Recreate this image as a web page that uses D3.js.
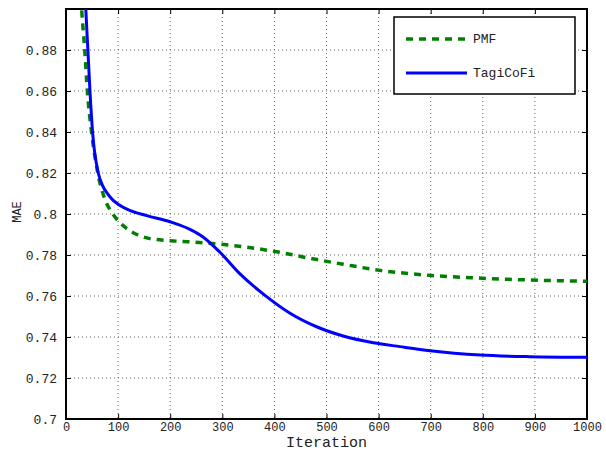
<!DOCTYPE html>
<html>
<head>
<meta charset="utf-8">
<script src="https://cdn.jsdelivr.net/npm/d3@7"></script>
<style>
  body { margin: 0; background: #fff; }
  text { font-family: "Liberation Mono", "DejaVu Sans Mono", monospace; fill: #222; }
</style>
</head>
<body>
<svg id="chart" width="606" height="452"></svg>
<script>
// values
var pmfIter = [20, 30, 36, 41, 49, 61, 75, 90, 115, 136, 161, 200, 263, 328, 404, 468, 532, 603, 692, 788, 890, 1000];
var pmfMae  = [0.95, 0.90, 0.88, 0.86, 0.84, 0.82, 0.807, 0.80, 0.7932, 0.7900, 0.7880, 0.787, 0.786, 0.7844, 0.7816, 0.7784, 0.7755, 0.7725, 0.7702, 0.7688, 0.7678, 0.7672];

var tagiIter = [30, 38, 42, 46, 51, 62, 70, 80, 90, 100, 120, 155, 200, 238, 263, 296, 334, 385, 430, 481, 532, 590, 641, 699, 795, 890, 1000];
var tagiMae  = [0.96, 0.90, 0.88, 0.86, 0.84, 0.82, 0.8140, 0.8098, 0.8068, 0.8048, 0.8020, 0.7992, 0.7962, 0.7925, 0.7888, 0.7812, 0.7708, 0.7597, 0.7516, 0.745, 0.7405, 0.7372, 0.7353, 0.7333, 0.7312, 0.7304, 0.7301];

var xTicks = [0, 100, 200, 300, 400, 500, 600, 700, 800, 900, 1000];
var yTicks = [0.7, 0.72, 0.74, 0.76, 0.78, 0.8, 0.82, 0.84, 0.86, 0.88];

var svg = d3.select("#chart");
var pLeft = 66, pRight = 587, pTop = 9, pBottom = 419;

var x = d3.scaleLinear().domain([0, 1000]).range([pLeft, pRight]);
var y = d3.scaleLinear().domain([0.7, 0.9]).range([pBottom, pTop]);

svg.append("defs").append("clipPath").attr("id", "clip")
  .append("rect").attr("x", pLeft).attr("y", pTop)
  .attr("width", pRight - pLeft).attr("height", pBottom - pTop);

// grid
var grid = svg.append("g").attr("stroke", "#666").attr("stroke-dasharray", "1,3").attr("stroke-width", 1);
grid.selectAll(".gx").data(xTicks.slice(1, -1)).enter().append("line")
  .attr("x1", function(d) { return x(d); }).attr("x2", function(d) { return x(d); })
  .attr("y1", pTop).attr("y2", pBottom);
grid.selectAll(".gy").data(yTicks.slice(1)).enter().append("line")
  .attr("x1", pLeft).attr("x2", pRight)
  .attr("y1", function(d) { return y(d); }).attr("y2", function(d) { return y(d); });

// axes
function styleAxis(g) {
  g.select(".domain").remove();
  g.selectAll("line").attr("stroke", "#000").attr("stroke-width", 1);
  g.selectAll("text").attr("font-size", "13px").attr("fill", "#222");
}
var fmtY = function(d) { return String(+d.toFixed(2)); };

svg.append("g").attr("transform", "translate(0," + pBottom + ")")
  .call(d3.axisBottom(x).tickValues(xTicks).tickSize(-5).tickPadding(3).tickFormat(d3.format("d")))
  .call(styleAxis)
  .selectAll("text").attr("font-size", "12px");
svg.append("g").attr("transform", "translate(0," + pTop + ")")
  .call(d3.axisTop(x).tickValues(xTicks).tickSize(-5).tickFormat(""))
  .call(styleAxis);
svg.append("g").attr("transform", "translate(" + pLeft + ",0)")
  .call(d3.axisLeft(y).tickValues(yTicks).tickSize(-5).tickPadding(9).tickFormat(fmtY))
  .call(styleAxis);
svg.append("g").attr("transform", "translate(" + pRight + ",0)")
  .call(d3.axisRight(y).tickValues(yTicks).tickSize(-5).tickFormat(""))
  .call(styleAxis);

svg.append("rect").attr("x", pLeft).attr("y", pTop)
  .attr("width", pRight - pLeft).attr("height", pBottom - pTop)
  .attr("fill", "none").attr("stroke", "#000").attr("stroke-width", 2);

// lines
var line = d3.line()
  .x(function(d) { return x(d[0]); })
  .y(function(d) { return y(d[1]); })
  .curve(d3.curveMonotoneX);

var plot = svg.append("g").attr("clip-path", "url(#clip)");
plot.append("path").datum(d3.zip(pmfIter, pmfMae))
  .attr("d", line).attr("fill", "none")
  .attr("stroke", "#008000").attr("stroke-width", 3.5).attr("stroke-dasharray", "7,6");
plot.append("path").datum(d3.zip(tagiIter, tagiMae))
  .attr("d", line).attr("fill", "none")
  .attr("stroke", "#0000ff").attr("stroke-width", 3);

// labels
svg.append("text").attr("x", (pLeft + pRight) / 2).attr("y", 447)
  .attr("text-anchor", "middle").attr("font-size", "15px").text("Iteration");
svg.append("text").attr("transform", "translate(21,212) rotate(-90)")
  .attr("text-anchor", "middle").attr("font-size", "12px").text("MAE");

// legend
var lg = svg.append("g");
lg.append("rect").attr("x", 394).attr("y", 17).attr("width", 181).attr("height", 77)
  .attr("fill", "#fff").attr("stroke", "#000").attr("stroke-width", 1.5);
lg.append("line").attr("x1", 406).attr("x2", 467).attr("y1", 39).attr("y2", 39)
  .attr("stroke", "#008000").attr("stroke-width", 3.5).attr("stroke-dasharray", "7,6");
lg.append("line").attr("x1", 406).attr("x2", 467).attr("y1", 73).attr("y2", 73)
  .attr("stroke", "#0000ff").attr("stroke-width", 3);
lg.append("text").attr("x", 473).attr("y", 43).attr("font-size", "13px").text("PMF");
lg.append("text").attr("x", 473).attr("y", 77).attr("font-size", "13px").text("TagiCoFi");
</script>
</body>
</html>
